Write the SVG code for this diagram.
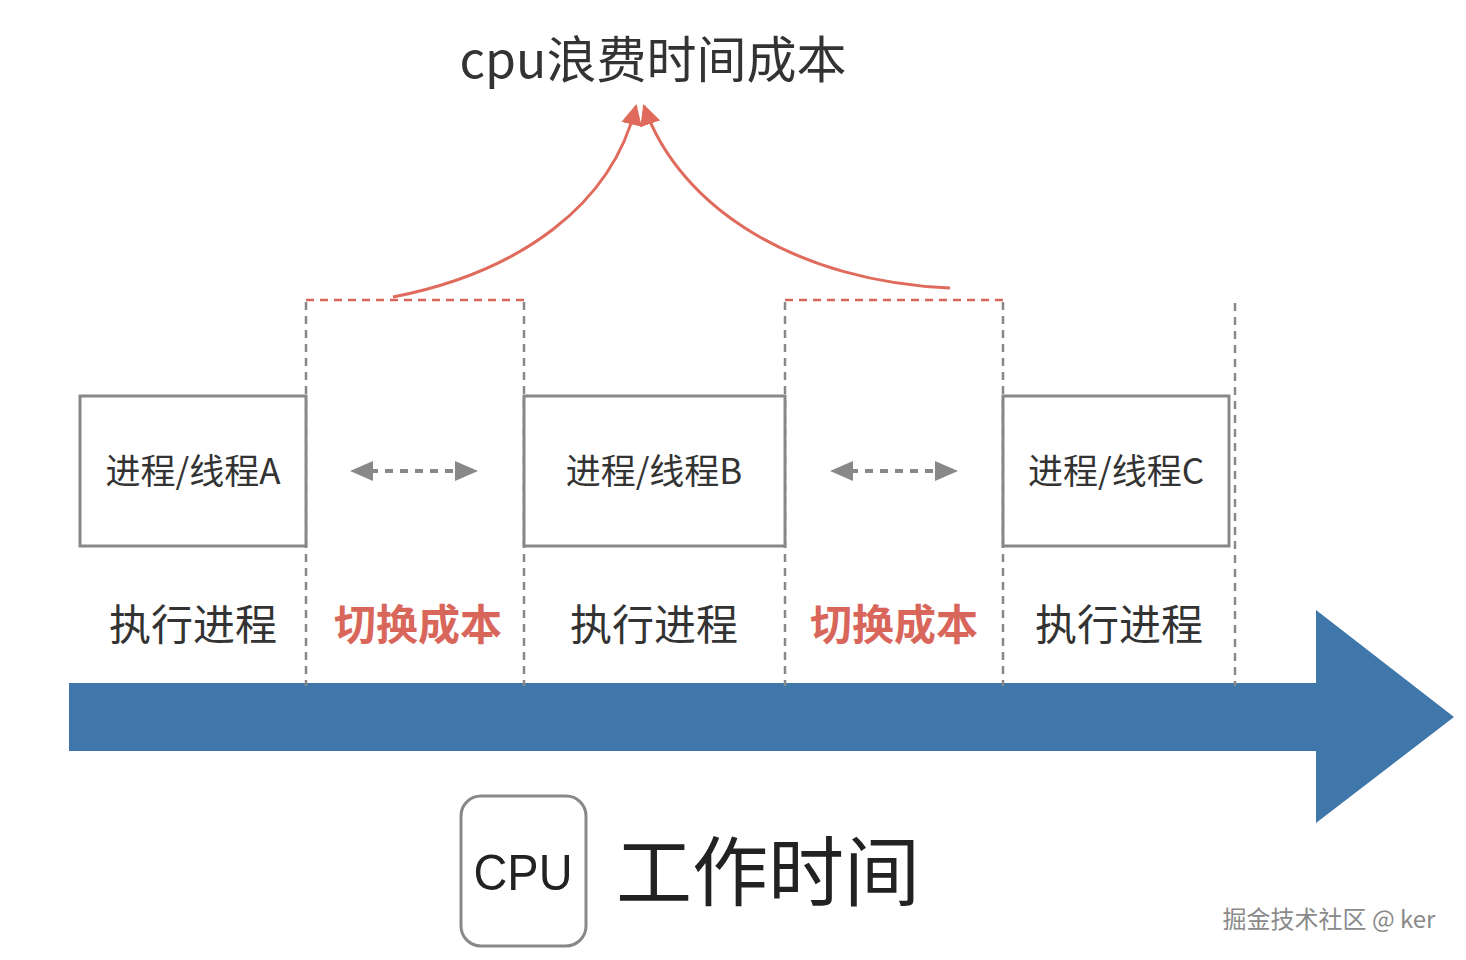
<svg xmlns="http://www.w3.org/2000/svg" width="1466" height="960" viewBox="0 0 1466 960">
<style>
.t{font-family:"Noto Sans CJK SC","Liberation Sans",sans-serif;fill:#333;text-anchor:middle}
.box{fill:#fff;stroke:#888;stroke-width:3}
.vd{stroke:#888;stroke-width:2.5;stroke-dasharray:8 6;fill:none}
.rd{stroke:#d9665a;stroke-width:2.5;stroke-dasharray:8 6;fill:none}
.gd{stroke:#888;stroke-width:4;stroke-dasharray:8 7;fill:none}
.gh{fill:#888}
.rc{stroke:#e06a5c;stroke-width:3;fill:none}
</style>
<defs>
<marker id="ra" viewBox="0 0 10 10" refX="9" refY="5" markerWidth="7" markerHeight="7" orient="auto"><path d="M0,0 L10,5 L0,10 Z" fill="#e06a5c"/></marker>
</defs>
<rect width="1466" height="960" fill="#fff"/>
<g id="timeline">
<path d="M69,683 L1316,683 L1316,610 L1454,717 L1316,823 L1316,751 L69,751 Z" fill="#3f77aa"/>
</g>
<g id="guides">
<path class="vd" d="M306,302 V686 M524,302 V686 M785,302 V686 M1003,302 V686 M1235,303 V686"/>
<path class="rd" d="M306,300 H524 M785,300 H1003"/>
</g>
<g id="node-a"><rect class="box" x="80" y="396" width="226" height="150"/><text class="t" x="193" y="484" font-size="35">进程/线程A</text></g>
<g id="node-b"><rect class="box" x="524" y="396" width="261" height="150"/><text class="t" x="654" y="484" font-size="35">进程/线程B</text></g>
<g id="node-c"><rect class="box" x="1003" y="396" width="226" height="150"/><text class="t" x="1116" y="484" font-size="35">进程/线程C</text></g>
<g id="labels">
<text class="t" x="193" y="640" font-size="42">执行进程</text>
<text class="t" x="418" y="640" font-size="42" font-weight="bold" style="fill:#d9665a">切换成本</text>
<text class="t" x="654" y="640" font-size="42">执行进程</text>
<text class="t" x="894" y="640" font-size="42" font-weight="bold" style="fill:#d9665a">切换成本</text>
<text class="t" x="1119" y="640" font-size="42">执行进程</text>
</g>
<g id="title"><text class="t" x="653" y="78" font-size="50">cpu浪费时间成本</text></g>
<g id="connectors">
<path class="gd" d="M370,471 H460"/>
<path class="gh" d="M350,471 L373,461 L373,481 Z M478,471 L455,461 L455,481 Z"/>
<path class="gd" d="M850,471 H940"/>
<path class="gh" d="M830,471 L853,461 L853,481 Z M958,471 L935,461 L935,481 Z"/>
<path class="rc" d="M393,297 C520,272 612,205 636,106" marker-end="url(#ra)"/>
<path class="rc" d="M950,288 C800,282 680,210 644,106" marker-end="url(#ra)"/>
</g>
<g id="cpu">
<rect x="461" y="796" width="125" height="150" rx="20" fill="#fff" stroke="#888" stroke-width="3"/>
<text x="523" y="890" font-size="50" font-family="Liberation Sans, sans-serif" fill="#222" text-anchor="middle" textLength="99" lengthAdjust="spacingAndGlyphs">CPU</text>
</g>
<g id="worktime"><text class="t" x="768" y="900" font-size="76" style="fill:#222">工作时间</text></g>
<g id="watermark"><text x="1329" y="928" font-size="24" font-family="Noto Sans CJK SC, sans-serif" fill="#8a8a8a" text-anchor="middle">掘金技术社区 @ ker</text></g>
</svg>
